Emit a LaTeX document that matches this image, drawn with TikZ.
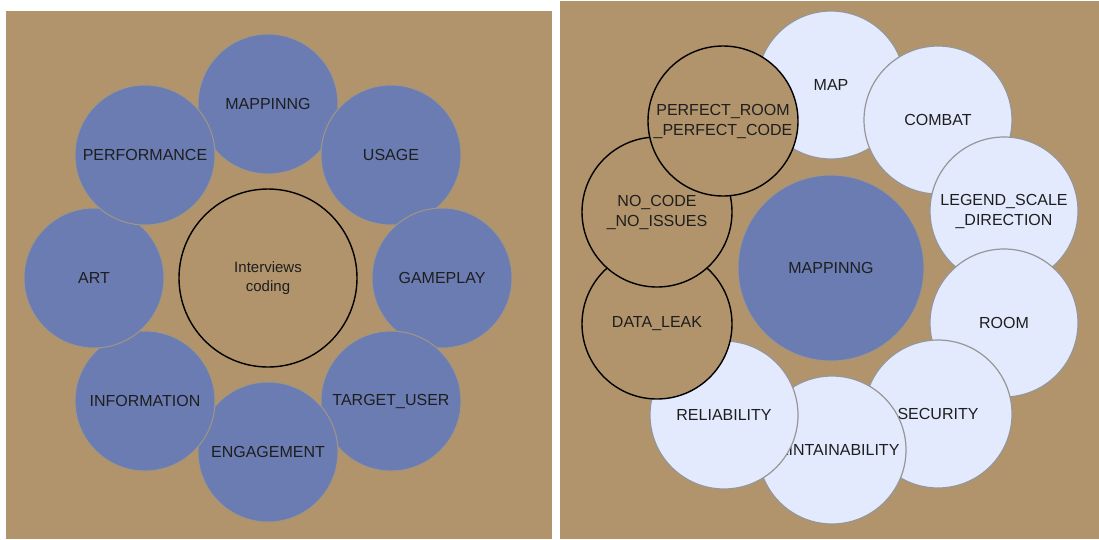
\documentclass[tikz,border=0pt]{standalone}
\usepackage{fontspec}
\setmainfont{Liberation Sans}
\usepackage{xcolor}
\definecolor{paneltan}{RGB}{177,148,108}
\definecolor{topicblue}{RGB}{107,124,178}
\definecolor{topiclight}{RGB}{227,234,253}
\definecolor{rimtan}{RGB}{160,150,130}
\definecolor{rimgray}{RGB}{150,150,150}
\definecolor{labeltext}{RGB}{30,30,30}

\begin{document}
\begin{tikzpicture}[
    x=1pt, y=-1pt,
    panel/.style={fill=paneltan, draw=none},
    topic/.style={circle, draw=rimtan, line width=1pt, fill=topicblue, minimum size=140pt, inner sep=0pt, align=center, text=labeltext, font=\fontsize{16}{20}\selectfont},
    subtopic/.style={circle, draw=rimgray, line width=1.2pt, fill=topiclight, minimum size=148pt, inner sep=0pt, align=center, text=labeltext, font=\fontsize{16}{20}\selectfont},
    issue/.style={circle, draw=black, line width=1.4pt, fill=paneltan, minimum size=150pt, inner sep=0pt, align=center, text=labeltext, font=\fontsize{16}{20}\selectfont},
    hub/.style={circle, draw=black, line width=1.4pt, minimum size=178pt, inner sep=0pt, align=center, text=labeltext, font=\fontsize{15}{19}\selectfont}
]
\useasboundingbox[fill=white] (0,0) rectangle (1099,539);
\fill[panel] (6,11) rectangle (552,539);
\fill[panel] (560,1) rectangle (1099,539);

\node[topic] (mapLeft) at (268,104) {MAPPINNG};
\node[topic] (usage) at (391,155) {USAGE};
\node[topic] (gameplay) at (442,278) {GAMEPLAY};
\node[topic] (targetUser) at (391,401) {TARGET\_USER};
\node[topic] (engagement) at (268,452) {ENGAGEMENT};
\node[topic] (information) at (145,401) {INFORMATION};
\node[topic] (art) at (94,278) {ART};
\node[topic] (performance) at (145,155) {PERFORMANCE};
\node[hub] (interviews) at (268,278) {Interviews\\coding};

\node[topic, minimum size=186pt] (mapRight) at (831,268) {MAPPINNG};
\node[subtopic] (map) at (831,85) {MAP};
\node[subtopic] (combat) at (938,120) {COMBAT};
\node[subtopic] (legend) at (1004,211) {LEGEND\_SCALE\\\_DIRECTION};
\node[subtopic] (room) at (1004,323) {ROOM};
\node[subtopic] (security) at (938,414) {SECURITY};
\node[subtopic] (maintain) at (832,450) {MAINTAINABILITY};
\node[subtopic] (reliability) at (724,415) {RELIABILITY};
\node[issue] (dataLeak) at (657,324) {DATA\_LEAK};
\node[issue] (noCode) at (657,212) {NO\_CODE\\\_NO\_ISSUES};
\node[issue] (perfect) at (723,121) {PERFECT\_ROOM\\\_PERFECT\_CODE};
\end{tikzpicture}
\end{document}
